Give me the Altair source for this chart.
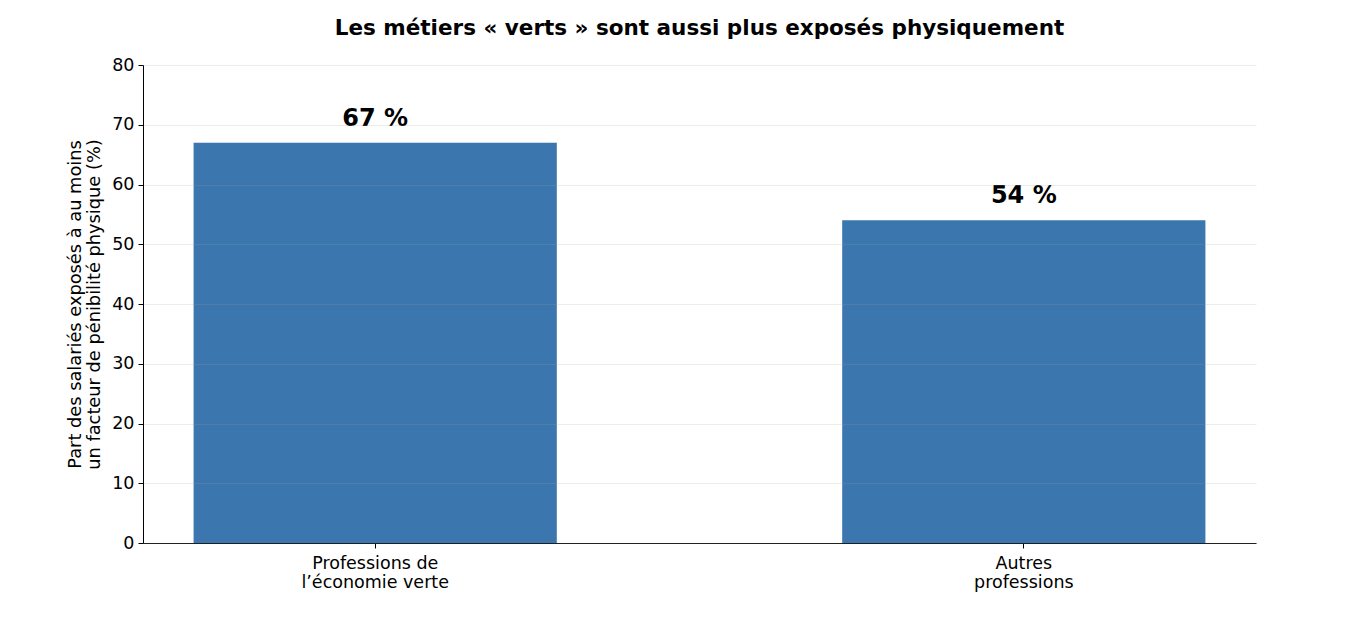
import altair as alt
import pandas as pd

categories = ["Professions de\nl\u2019\u00e9conomie verte", "Autres\nprofessions"]
values = [67, 54]
labels = ["67 %", "54 %"]

df = pd.DataFrame({"cat": categories, "val": values, "lab": labels})

FONT = "DejaVu Sans"

base = alt.Chart(df).encode(
    x=alt.X(
        "cat:N",
        sort=categories,
        scale=alt.Scale(paddingInner=0.44, paddingOuter=0.078),
        axis=alt.Axis(
            title=None,
            labelAngle=0,
            labelExpr="split(datum.label, '\\n')",
            labelFontSize=17.5,
            labelColor="black",
            labelFont=FONT,
            labelPadding=6,
            labelLineHeight=19,
            tickColor="black",
            tickSize=5,
            domainColor="black",
            grid=False,
        ),
    ),
    y=alt.Y(
        "val:Q",
        scale=alt.Scale(domain=[0, 80], nice=False),
        axis=alt.Axis(
            values=[0, 10, 20, 30, 40, 50, 60, 70, 80],
            title=["Part des salari\u00e9s expos\u00e9s \u00e0 au moins",
                   "un facteur de p\u00e9nibilit\u00e9 physique (%)"],
            titleFontSize=17.8,
            titleFontWeight="normal",
            titleFont=FONT,
            titleColor="black",
            titleLineHeight=19,
            titlePadding=8,
            labelFontSize=17.5,
            labelColor="black",
            labelFont=FONT,
            labelPadding=4,
            tickColor="black",
            tickSize=5,
            domainColor="black",
            grid=True,
            gridColor="#a0a0a0",
            gridOpacity=0.2,
            zindex=1,
        ),
    ),
)

bars = base.mark_bar(color="#3b76ae")
text = base.mark_text(
    baseline="bottom", dy=-12, fontSize=24, fontWeight="bold", font=FONT, color="black"
).encode(text="lab:N")

chart = (
    (bars + text)
    .properties(
        width=1113,
        height=478,
        background="white",
        title=alt.TitleParams(
            "Les m\u00e9tiers \u00ab verts \u00bb sont aussi plus expos\u00e9s physiquement",
            fontSize=21.5,
            fontWeight="bold",
            font=FONT,
            color="black",
            anchor="middle",
            offset=17,
        ),
        autosize=alt.AutoSizeParams(type="none"),
        padding={"left": 135, "top": 57, "right": 90, "bottom": 60},
    )
    .configure_view(strokeOpacity=0, strokeWidth=0)
)

chart.save("out.html", embed_options={"renderer": "svg", "actions": False})
